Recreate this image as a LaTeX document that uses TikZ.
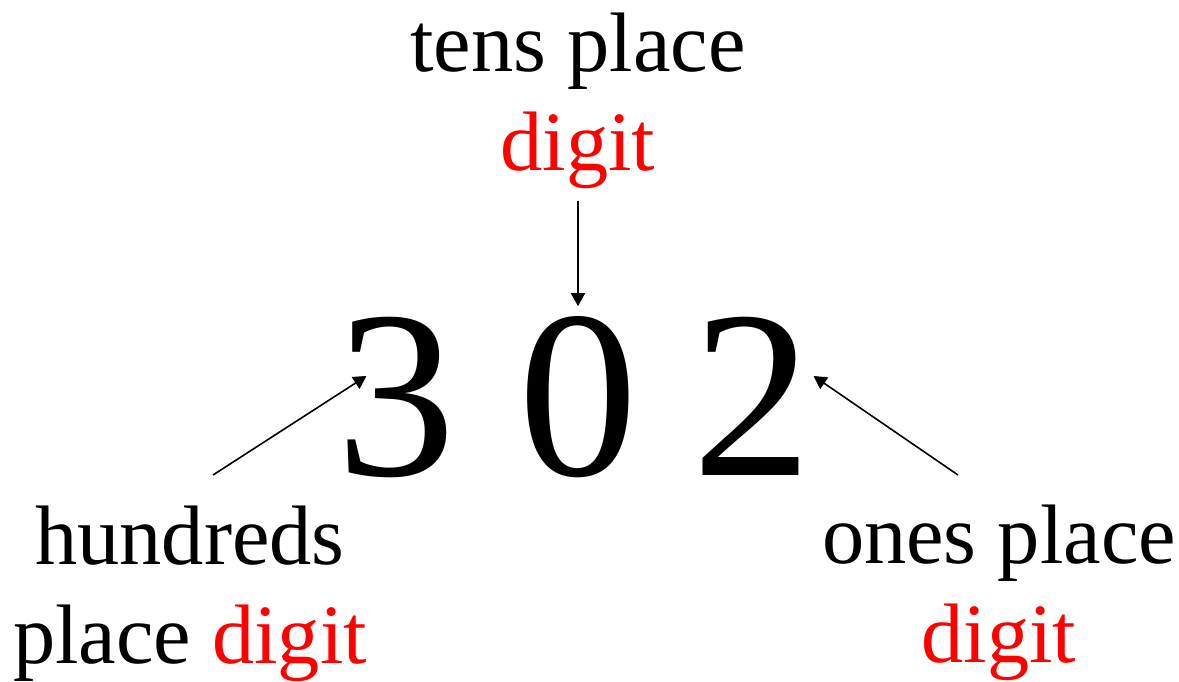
\documentclass[tikz,border=0pt]{standalone}
\usepackage{fontspec}
\setmainfont{Liberation Serif}
\usetikzlibrary{arrows.meta,calc}
\definecolor{digitred}{RGB}{255,0,0}
\tikzset{
  placelabel/.style={align=center, inner sep=0pt, anchor=base,
    font=\fontsize{24}{27.9}\selectfont},
  bigdigit/.style={inner sep=0pt, anchor=base, text height=1.62cm,
    text depth=0pt, font=\fontsize{68}{68}\selectfont},
  pointer/.style={-{Triangle[length=1.3mm,width=1.4mm]}, line width=0.45pt}
}
\newcommand{\reddigit}{\textcolor{digitred}{digit}}

\begin{document}
\begin{tikzpicture}[x=0.01cm, y=-0.01cm]
  \useasboundingbox (0,0) rectangle (1179,681);

  % the number
  \node[bigdigit] (d3) at (396,475) {3};
  \node[bigdigit] (d0) at (578,475) {0};
  \node[bigdigit] (d2) at (752,475) {2};

  % place labels (base = last line)
  \node[placelabel] (tens) at (578,170) {tens place\\\reddigit};
  \node[placelabel] (hund) at (190,663) {hundreds\\place \reddigit};
  \node[placelabel] (ones) at (999,662) {ones place\\\reddigit};

  \coordinate (hundtail) at (213,475);
  \coordinate (onestail) at (958,475);

  \draw[pointer, shorten <=1.2mm, shorten >=0.6mm] (tens.south) -- (d0.north);
  \draw[pointer] (hundtail) -- ($(d3.west)+(31,-18)$);
  \draw[pointer] (onestail) -- ($(d2.east)+(1,-18)$);
\end{tikzpicture}
\end{document}
